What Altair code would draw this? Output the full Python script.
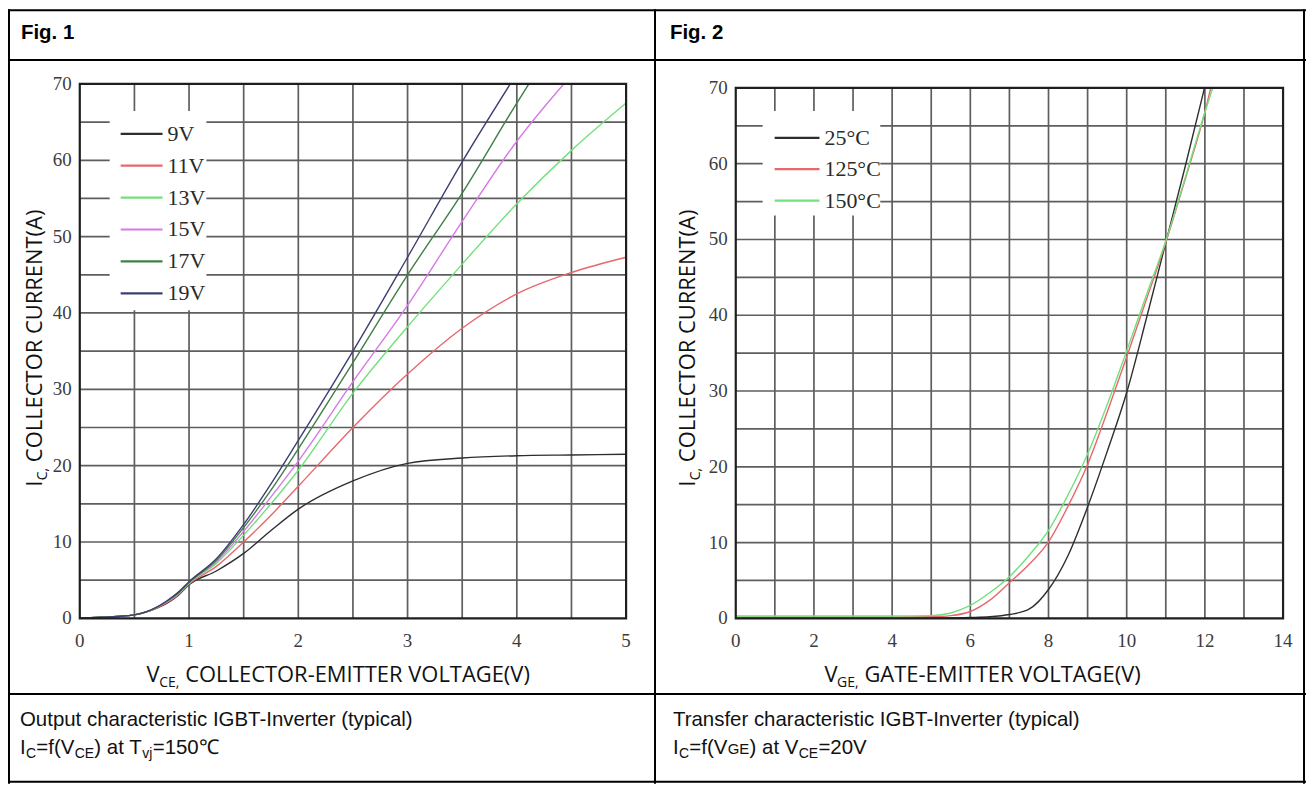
import altair as alt
import pandas as pd

# ---------------- data ----------------
FIG1_SERIES = ["9V", "11V", "13V", "15V", "17V", "19V"]
FIG1_COLORS = ["#2e2e2e", "#e8676b", "#72e07c", "#d67ae6", "#3f7f47", "#3d3f70"]
FIG1_VCE = [0, 0.2, 0.4, 0.5, 0.6, 0.7, 0.8, 0.9, 1.0, 1.25, 1.5, 1.75, 2.0, 2.5, 3.0, 3.5, 4.0, 4.5, 5.0]
IC_9V = [0, 0.15, 0.3, 0.45, 0.8, 1.3, 2.0, 3.0, 4.4, 6.2, 8.5, 11.5, 14.3, 18.0, 20.3, 21.0, 21.3, 21.4, 21.5]
IC_11V = [0, 0.15, 0.3, 0.45, 0.8, 1.35, 2.1, 3.1, 4.5, 6.8, 10.0, 13.5, 17.3, 25.0, 32.0, 38.0, 42.5, 45.3, 47.3]
IC_13V = [0, 0.15, 0.3, 0.45, 0.8, 1.4, 2.2, 3.2, 4.6, 7.2, 10.9, 15.0, 19.4, 29.5, 38.2, 46.4, 54.3, 61.3, 67.5]
IC_15V = [0, 0.15, 0.3, 0.45, 0.8, 1.4, 2.2, 3.3, 4.7, 7.4, 11.4, 15.9, 20.6, 31.0, 41.0, 52.0, 62.5]
IC_17V = [0, 0.15, 0.3, 0.45, 0.8, 1.4, 2.3, 3.3, 4.7, 7.6, 11.9, 16.8, 22.2, 33.5, 45.0, 55.7, 67.5]
IC_19V = [0, 0.15, 0.3, 0.45, 0.8, 1.45, 2.3, 3.4, 4.8, 7.8, 12.3, 17.6, 23.3, 35.0, 47.3, 59.8]
FIG1_EXIT_VCE = {"15V": 4.43, "17V": 4.11, "19V": 3.94}   # where the curve leaves the top (70 A)

FIG2_SERIES = ["25°C", "125°C", "150°C"]
FIG2_COLORS = ["#2e2e2e", "#e8676b", "#72e07c"]
FIG2_VGE = [0, 1, 2, 3, 4, 5, 5.5, 6, 6.5, 7, 7.5, 8, 8.5, 9, 9.5, 10, 10.5, 11, 11.5, 12]
IC_25C = [0.05, 0.05, 0.05, 0.05, 0.05, 0.05, 0.05, 0.1, 0.2, 0.5, 1.2, 3.8, 8.3, 14.7, 22.0, 29.8, 39.5, 49.6, 59.7]
IC_125C = [0.15, 0.15, 0.15, 0.15, 0.15, 0.2, 0.35, 0.9, 2.4, 4.7, 7.1, 10.1, 14.8, 20.3, 27.2, 34.5, 42.0, 49.6, 58.0, 66.8]
IC_150C = [0.3, 0.3, 0.3, 0.3, 0.3, 0.35, 0.7, 1.7, 3.4, 5.5, 8.3, 11.6, 16.3, 21.7, 28.2, 35.3, 42.6, 49.8, 58.2, 66.8]
FIG2_EXIT_VGE = {"25°C": 11.99, "125°C": 12.15, "150°C": 12.2}

FIG1_XGRID = [0.5, 1.0, 1.5, 2.0, 2.5, 3.0, 3.5, 4.0, 4.5]
FIG2_XGRID = [1, 2, 3, 4, 5, 6, 7, 8, 9, 10, 11, 12, 13]
YGRID = [5, 10, 15, 20, 25, 30, 35, 40, 45, 50, 55, 60, 65]
FIG1_XTICKS = [0, 1, 2, 3, 4, 5]
FIG2_XTICKS = [0, 2, 4, 6, 8, 10, 12, 14]
YTICKS = [0, 10, 20, 30, 40, 50, 60, 70]

# ---------------- tables ----------------
def long_table(xname, xs, series, values, exits):
    rows = []
    for s, vals in zip(series, values):
        for x, v in zip(xs, vals):
            rows.append({xname: x, "ic": v, "series": s})
        if s in exits:
            rows.append({xname: exits[s], "ic": 70, "series": s})
    return pd.DataFrame(rows)

df1 = long_table("v", FIG1_VCE, FIG1_SERIES, [IC_9V, IC_11V, IC_13V, IC_15V, IC_17V, IC_19V], FIG1_EXIT_VCE)
df2 = long_table("v", FIG2_VGE, FIG2_SERIES, [IC_25C, IC_125C, IC_150C], FIG2_EXIT_VGE)

ONE = pd.DataFrame({"k": [0]})
SERIF = "Liberation Serif"
SANS = "Open Sans"
ARIAL = "Liberation Sans"

GRID_COLOR = "#5e5e5e"
TICK_COLOR = "#3c3c3c"


def panel(df, series, colors, xdom, xrange, yrange, xgrid, xticks, box, leg):
    X = alt.Scale(domain=xdom, range=xrange, nice=False, zero=False)
    Y = alt.Scale(domain=[0, 70], range=yrange, nice=False, zero=False)
    C = alt.Scale(domain=series, range=colors)

    vg = pd.DataFrame({"v": xgrid, "lo": 0, "hi": 70})
    hg = pd.DataFrame({"i": YGRID, "lo": xdom[0], "hi": xdom[1]})
    vgrid = alt.Chart(vg).mark_rule(color=GRID_COLOR, strokeWidth=1.7).encode(
        x=alt.X("v:Q", scale=X, axis=None),
        y=alt.Y("lo:Q", scale=Y, axis=None), y2="hi:Q")
    hgrid = alt.Chart(hg).mark_rule(color=GRID_COLOR, strokeWidth=1.7).encode(
        y=alt.Y("i:Q", scale=Y, axis=None),
        x=alt.X("lo:Q", scale=X, axis=None), x2="hi:Q")

    bx0, bx1, by0, by1 = box
    wbox = alt.Chart(ONE).mark_rect(color="white").encode(
        x=alt.value(bx0), x2=alt.value(bx1), y=alt.value(by0), y2=alt.value(by1))

    lx0, lx1, ltx, ly0, lstep = leg
    legdf = pd.DataFrame({"series": series, "idx": list(range(len(series)))})
    legrule = alt.Chart(legdf).transform_calculate(
        ly=f"{ly0} + {lstep} * datum.idx").mark_rule(strokeWidth=2.2).encode(
        x=alt.value(lx0), x2=alt.value(lx1), y=alt.Y("ly:Q", scale=None),
        color=alt.Color("series:N", scale=C, legend=None))
    legtext = alt.Chart(legdf).transform_calculate(
        ly=f"{ly0} + {lstep} * datum.idx").mark_text(
        align="left", baseline="middle", font=SERIF, fontSize=22, color="#2a2a2a").encode(
        x=alt.value(ltx), y=alt.Y("ly:Q", scale=None), text="series:N")

    lines = alt.Chart(df).mark_line(strokeWidth=1.4, interpolate="monotone").encode(
        x=alt.X("v:Q", scale=X, axis=None),
        y=alt.Y("ic:Q", scale=Y, axis=None),
        color=alt.Color("series:N", scale=C, legend=None))

    fr = pd.DataFrame({"x0": [xdom[0]], "x1": [xdom[1]], "y0": [0], "y1": [70]})
    frame = alt.Chart(fr).mark_rect(fillOpacity=0, stroke="#1e1e1e", strokeWidth=2.2).encode(
        x=alt.X("x0:Q", scale=X, axis=None), x2="x1:Q",
        y=alt.Y("y0:Q", scale=Y, axis=None), y2="y1:Q")

    xt = pd.DataFrame({"v": xticks, "lab": [str(t) for t in xticks]})
    yt = pd.DataFrame({"v": YTICKS, "lab": [str(t) for t in YTICKS]})
    xlab = alt.Chart(xt).mark_text(font=SERIF, fontSize=19, color=TICK_COLOR,
                                   baseline="middle", align="center").encode(
        x=alt.X("v:Q", scale=X, axis=None), y=alt.value(634), text="lab:N")
    ylab = alt.Chart(yt).mark_text(font=SERIF, fontSize=19, color=TICK_COLOR,
                                   baseline="middle", align="right").encode(
        x=alt.value(xrange[0] - 8), y=alt.Y("v:Q", scale=Y, axis=None), text="lab:N")

    return alt.layer(vgrid, hgrid, wbox, legrule, legtext, lines, frame, xlab, ylab)


p1 = panel(df1, FIG1_SERIES, FIG1_COLORS, [0, 5], [72, 620], [611, 75], FIG1_XGRID, FIG1_XTICKS,
           (102, 199, 102, 302), (113, 155, 160, 125, 32))
p2 = panel(df2, FIG2_SERIES, FIG2_COLORS, [0, 14], [730, 1279], [611, 79], FIG2_XGRID, FIG2_XTICKS,
           (757, 875, 102, 207), (769, 814, 819, 129, 31.5))

# ---------------- decoration: table, titles, captions ----------------
def txt(s, x, y, size, font, weight="normal", color="#111111", align="left",
        baseline="alphabetic", angle=0):
    return alt.Chart(ONE).mark_text(text=s, font=font, fontSize=size, fontWeight=weight,
                                    color=color, align=align, baseline=baseline,
                                    angle=angle).encode(x=alt.value(x), y=alt.value(y))

ARIAL_W = {" ": 0.278, "=": 0.584, "f": 0.278, "(": 0.333, ")": 0.333, "V": 0.667, "C": 0.722,
           "E": 0.667, "a": 0.556, "t": 0.278, "T": 0.611, "v": 0.5, "j": 0.222, "0": 0.556,
           "1": 0.556, "2": 0.556, "5": 0.556, "℃": 1.0, "G": 0.778, "I": 0.278}
OPEN_W = {"V": 0.575, "I": 0.29, "C": 0.633, "E": 0.561, "G": 0.725, ",": 0.244, " ": 0.26}


def width(s, size, table):
    return sum(table.get(ch, 0.55) for ch in s) * size


CAP = 20.5


def caption_run(segs, x, y, size=CAP):
    out = []
    for s, kind in segs:
        if kind == "sub":
            sz, dy = 14, 4
        elif kind == "small":
            sz, dy = 15, 0
        else:
            sz, dy = size, 0
        out.append(txt(s, x, y + dy, sz, ARIAL))
        x += width(s, sz, ARIAL_W) + 0.3
    return out


def xtitle_run(prefix, sub, main, x, y):
    out = [txt(prefix, x, y, 22, SANS, color="#111111")]
    x += width(prefix, 22, OPEN_W)
    out.append(txt(sub, x, y + 5, 14, SANS, color="#111111"))
    x += width(sub, 14, OPEN_W) + 6
    out.append(txt(main, x, y, 22, SANS, color="#111111"))
    return out


def ytitle_run(x, y):
    out = [txt("I", x, y, 22, SANS, color="#111111", angle=270)]
    y -= width("I", 22, OPEN_W)
    out.append(txt("C,", x + 5, y, 14, SANS, color="#111111", angle=270))
    y -= width("C,", 14, OPEN_W) + 6
    out.append(txt("COLLECTOR CURRENT(A)", x, y, 22, SANS, color="#111111", angle=270))
    return out


def hline(x0, x1, y):
    return alt.Chart(ONE).mark_rule(color="#000000", strokeWidth=2).encode(
        x=alt.value(x0), x2=alt.value(x1), y=alt.value(y))


def vline(x, y0, y1):
    return alt.Chart(ONE).mark_rule(color="#000000", strokeWidth=2).encode(
        x=alt.value(x), y=alt.value(y0), y2=alt.value(y1))


deco = [
    vline(1, 0, 777), vline(1300, 0, 777), vline(649, 0, 777),
    hline(0, 1302, 1), hline(0, 1302, 51), hline(0, 1302, 687), hline(0, 1302, 775),
    txt("Fig. 1", 13, 30, 20.5, ARIAL, weight="bold", color="#000000"),
    txt("Fig. 2", 664, 30, 20.5, ARIAL, weight="bold", color="#000000"),
    txt("Output characteristic IGBT-Inverter (typical)", 12, 719, CAP, ARIAL),
    txt("Transfer characteristic IGBT-Inverter (typical)", 667, 719, CAP, ARIAL),
]
deco += caption_run([("I", "n"), ("C", "sub"), ("=f(V", "n"), ("CE", "sub"), (") at T", "n"),
                     ("vj", "sub"), ("=150℃", "n")], 12, 747)
deco += caption_run([("I", "n"), ("C", "sub"), ("=f(V", "n"), ("GE", "small"), (") at V", "n"),
                     ("CE", "sub"), ("=20V", "n")], 667, 747)
deco += xtitle_run("V", "CE,", "COLLECTOR-EMITTER VOLTAGE(V)", 139, 675)
deco += xtitle_run("V", "GE,", "GATE-EMITTER VOLTAGE(V)", 819, 675)
deco += ytitle_run(34, 479)
deco += ytitle_run(689, 479)

chart = alt.layer(p1, p2, *deco).resolve_scale(
    x="independent", y="independent", color="independent"
).properties(
    width=1302, height=777, autosize=alt.AutoSizeParams(type="none"), padding=0,
    background="white"
).configure_view(stroke=None)

chart.save("out.html", embed_options={"renderer": "svg", "actions": False})
